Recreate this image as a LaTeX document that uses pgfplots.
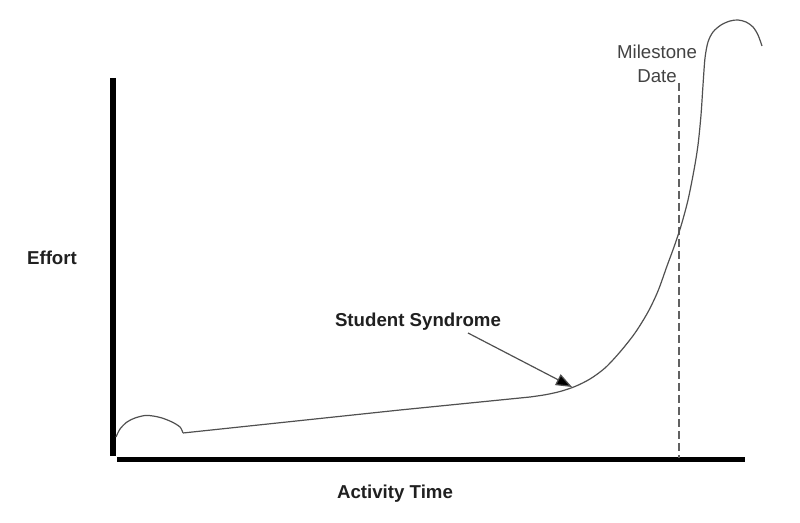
\documentclass[border=0pt]{standalone}
\usepackage{pgfplots}
\pgfplotsset{compat=1.18}
\usepackage{fontspec}
\setmainfont{Liberation Sans}
\usetikzlibrary{arrows.meta}
\definecolor{curve}{HTML}{505050}
\definecolor{txt}{HTML}{202020}
\begin{document}
\begin{tikzpicture}
\begin{axis}[
  scale only axis, width=600pt, height=392.25pt,
  xmin=0, xmax=800, ymin=0, ymax=523, y dir=reverse,
  hide axis, clip=false,
]
\path (rel axis cs:0,0) rectangle (rel axis cs:1,1);
% axes bars
\addplot[black, line width=4.5pt, no marks] coordinates {(113,78) (113,456)};
\addplot[black, line width=4pt, no marks] coordinates {(117,459.5) (745,459.5)};
% milestone dashed line
\addplot[curve!90, line width=0.9pt, dash pattern=on 6pt off 3pt, no marks] coordinates {(679,83) (679,458)};
% curve: initial bump
\addplot[curve, line width=0.9pt, smooth, no marks] coordinates {
 (116,437) (120,429) (127,422) (135,418) (145,415.5) (153,416) (162,418) (172,422) (180,427) (183,433)};
% curve: slow line then steep rise
\addplot[curve, line width=0.9pt, no marks] coordinates {(183,433) (400,410) (530,397)};
\addplot[curve, line width=0.9pt, smooth, no marks] coordinates {
 (530,397) (545,394.8) (560,391.5) (575,386.5) (590,379) (605,368) (620,352) (635,333) (648,312) (658,291) (667,266) (674,247) (681,226) (688,200) (694,170) (698,145) (701,115) (703,85) (705,58) (708,42) (713,32) (721,25) (730,21) (738,20) (746,22) (753,27) (758,35) (762,46)};
% arrow
\draw[curve, line width=0.9pt, -{Triangle[length=12pt,width=9pt,fill=black]}] (axis cs:468,333) -- (axis cs:572,387);
% texts
\node[txt, font=\fontsize{14}{16}\selectfont\bfseries] at (axis cs:52,258) {Effort};
\node[txt, font=\fontsize{14}{16}\selectfont\bfseries] at (axis cs:395,494) {Activity Time};
\node[txt, font=\fontsize{14}{16}\selectfont\bfseries] at (axis cs:418,322) {Student Syndrome};
\node[txt!85!white, font=\fontsize{14}{16}\selectfont, align=center] at (axis cs:657,64) {Milestone\\[1.5pt]Date};
\end{axis}
\end{tikzpicture}
\end{document}
